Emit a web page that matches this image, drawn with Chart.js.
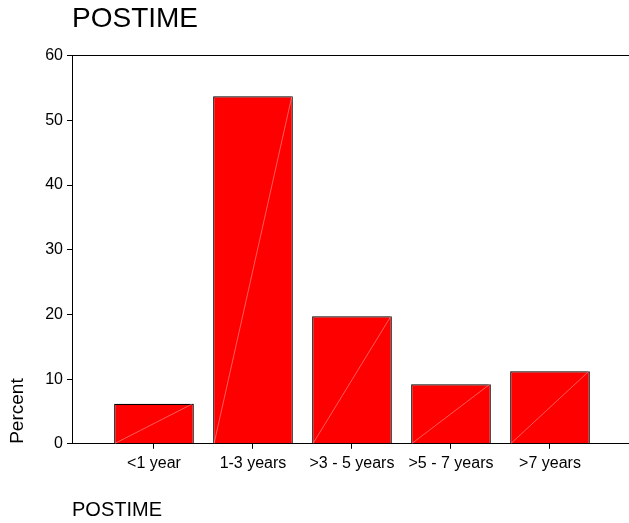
<!DOCTYPE html>
<html>
<head>
<meta charset="utf-8">
<script src="https://cdn.jsdelivr.net/npm/chart.js@4.4.0/dist/chart.umd.min.js"></script>
<style>
  body { margin: 0; background: #fff; }
  #wrap { width: 629px; height: 523px; }
</style>
</head>
<body>
<div id="wrap"><canvas id="chartPostime"></canvas></div>
<script>
const categories = ["<1 year", "1-3 years", ">3 - 5 years", ">5 - 7 years", ">7 years"];
const percents = [6.2, 53.7, 19.7, 9.2, 11.2];
const yTicks = [0, 10, 20, 30, 40, 50, 60];

const FONT = "'Liberation Sans', Arial, sans-serif";

// thin light diagonal in each bar, like the original export
const diagonals = {
  id: "diagonals",
  afterDatasetsDraw(chart) {
    const ctx = chart.ctx;
    chart.getDatasetMeta(0).data.forEach((bar) => {
      const p = bar.getProps(["x", "y", "base", "width"], true);
      ctx.save();
      ctx.strokeStyle = "rgba(255,170,170,0.9)";
      ctx.lineWidth = 0.6;
      ctx.beginPath();
      ctx.moveTo(p.x - p.width / 2 + 1, p.base);
      ctx.lineTo(p.x + p.width / 2 - 1, p.y);
      ctx.stroke();
      ctx.restore();
    });
  },
};

const data = {
  datasets: [
    {
      label: "Percent",
      data: percents.map((v, i) => ({ x: i + 1, y: v })),
      backgroundColor: "#ff0000",
      borderColor: "#000000",
      borderWidth: 1.2,
      barPercentage: 0.805,
      categoryPercentage: 1,
    },
  ],
};

const config = {
  type: "bar",
  data,
  options: {
    responsive: true,
    maintainAspectRatio: false,
    animation: false,
    layout: { padding: { left: 0, right: 0, top: 0, bottom: 0 } },
    plugins: {
      legend: { display: false },
      tooltip: { enabled: false },
      title: {
        display: true,
        text: "POSTIME",
        align: "start",
        fullSize: false,
        color: "#000",
        font: { family: FONT, size: 28, weight: "normal" },
        padding: { top: 2, bottom: 20 },
      },
    },
    scales: {
      x: {
        type: "linear",
        offset: false,
        min: 0.172,
        max: 5.798,
        afterBuildTicks: (scale) => {
          scale.ticks = categories.map((_, i) => ({ value: i + 1 }));
        },
        ticks: {
          callback: (v) => categories[v - 1],
          color: "#000",
          font: { family: FONT, size: 16 },
          padding: 5,
          maxRotation: 0,
          autoSkip: false,
        },
        grid: { offset: false, drawOnChartArea: false, tickLength: 5, tickColor: "#000" },
        border: { color: "#000", width: 1 },
        title: {
          display: true,
          text: "POSTIME",
          align: "start",
          color: "#000",
          font: { family: FONT, size: 20 },
          padding: { top: 20, bottom: 1 },
        },
      },
      y: {
        min: 0,
        max: 60,
        afterBuildTicks: (scale) => {
          scale.ticks = yTicks.map((v) => ({ value: v }));
        },
        afterFit: (scale) => {
          scale.width = 72;
        },
        ticks: {
          color: "#000",
          font: { family: FONT, size: 16 },
          padding: 4,
        },
        grid: {
          drawOnChartArea: true,
          color: (c) => (c.tick && c.tick.value === 60 ? "#000" : "rgba(0,0,0,0)"),
          tickColor: "#000",
          tickLength: 5,
        },
        border: { color: "#000", width: 1 },
        title: {
          display: true,
          text: "Percent",
          align: "start",
          color: "#000",
          font: { family: FONT, size: 19 },
          padding: { top: 6, bottom: 0 },
        },
      },
    },
  },
  plugins: [diagonals],
};

const chartPostime = new Chart(document.getElementById("chartPostime"), config);
</script>
</body>
</html>
